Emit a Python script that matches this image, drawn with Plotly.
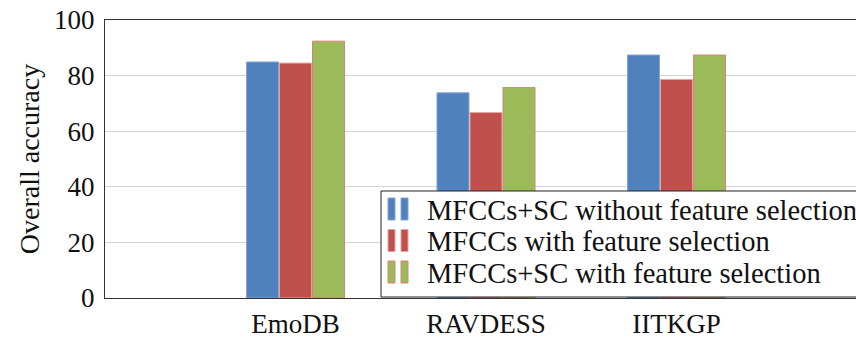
import plotly.graph_objects as go

categories = ["EmoDB", "RAVDESS", "IITKGP"]
series_names = [
    "MFCCs+SC without feature selection",
    "MFCCs with feature selection",
    "MFCCs+SC with feature selection",
]
mfcc_sc_no_fs = [84.9, 73.8, 87.4]
mfcc_fs = [84.5, 66.7, 78.6]
mfcc_sc_fs = [92.4, 75.7, 87.4]
y_ticks = [0, 20, 40, 60, 80, 100]

fills = ["#4F81BD", "#C0504D", "#9BBB59"]
edges = ["#86a3d4", "#e3a3a0", "#d9837c"]

FONT = "Liberation Serif, serif"
x_pos = list(range(len(categories)))

W, H = 856, 340
L, R, T, B = 105, 856, 20, 298  # plot area in pixels


def px(x):
    return (x - L) / (R - L)


def py(y):
    return (B - y) / (B - T)


fig = go.Figure()
for name, vals, fc, ec in zip(series_names, [mfcc_sc_no_fs, mfcc_fs, mfcc_sc_fs], fills, edges):
    fig.add_trace(go.Bar(
        x=x_pos, y=vals, name=name, showlegend=False,
        marker=dict(color=fc, line=dict(color=ec, width=1)),
    ))

# manual legend (box partly beyond the right edge, as in the reference)
shapes = [dict(type="rect", xref="paper", yref="paper",
               x0=px(381), x1=px(900), y0=py(297), y1=py(191),
               line=dict(color="#222", width=1), fillcolor="white", layer="above")]
annotations = []
row_y = [209, 240.5, 272]
for name, fc, ec, yc in zip(series_names, fills, edges, row_y):
    for bx0 in (388, 401):
        shapes.append(dict(type="rect", xref="paper", yref="paper",
                           x0=px(bx0), x1=px(bx0 + 7), y0=py(yc + 11), y1=py(yc - 11),
                           line=dict(color=ec, width=1), fillcolor=fc, layer="above"))
    annotations.append(dict(xref="paper", yref="paper", x=px(425), y=py(yc + 1),
                            xanchor="left", yanchor="middle", showarrow=False,
                            text=name, font=dict(family=FONT, size=28.5, color="#111")))

fig.update_layout(
    width=W, height=H,
    margin=dict(l=L, r=W - R, t=T, b=H - B, autoexpand=False),
    paper_bgcolor="white", plot_bgcolor="white",
    barmode="group", bargap=0.48, bargroupgap=0.03,
    font=dict(family=FONT, size=27, color="#111"),
    showlegend=False,
    shapes=shapes,
    annotations=annotations,
    xaxis=dict(
        range=[-1, 3 - 11 / 190.5], tickvals=x_pos, ticktext=categories,
        showgrid=False, zeroline=False,
        showline=True, linecolor="#333", linewidth=1, mirror=True,
        ticks="outside", ticklen=2, tickcolor="rgba(0,0,0,0)",
        tickfont=dict(family=FONT, size=27, color="#111"),
    ),
    yaxis=dict(
        range=[0, 100], tickvals=y_ticks,
        showgrid=True, gridcolor="#d4d4d4", gridwidth=1,
        zeroline=False,
        showline=True, linecolor="#333", linewidth=1, mirror=False,
        ticks="outside", ticklen=4, tickcolor="rgba(0,0,0,0)",
        tickfont=dict(family=FONT, size=27, color="#111"),
        title=dict(text="Overall accuracy", font=dict(family=FONT, size=28, color="#111"), standoff=6),
    ),
)

fig.write_html(
    "out.html",
    config={"displayModeBar": False},
    post_script="document.body.style.margin='0';document.body.style.overflow='hidden';",
)
